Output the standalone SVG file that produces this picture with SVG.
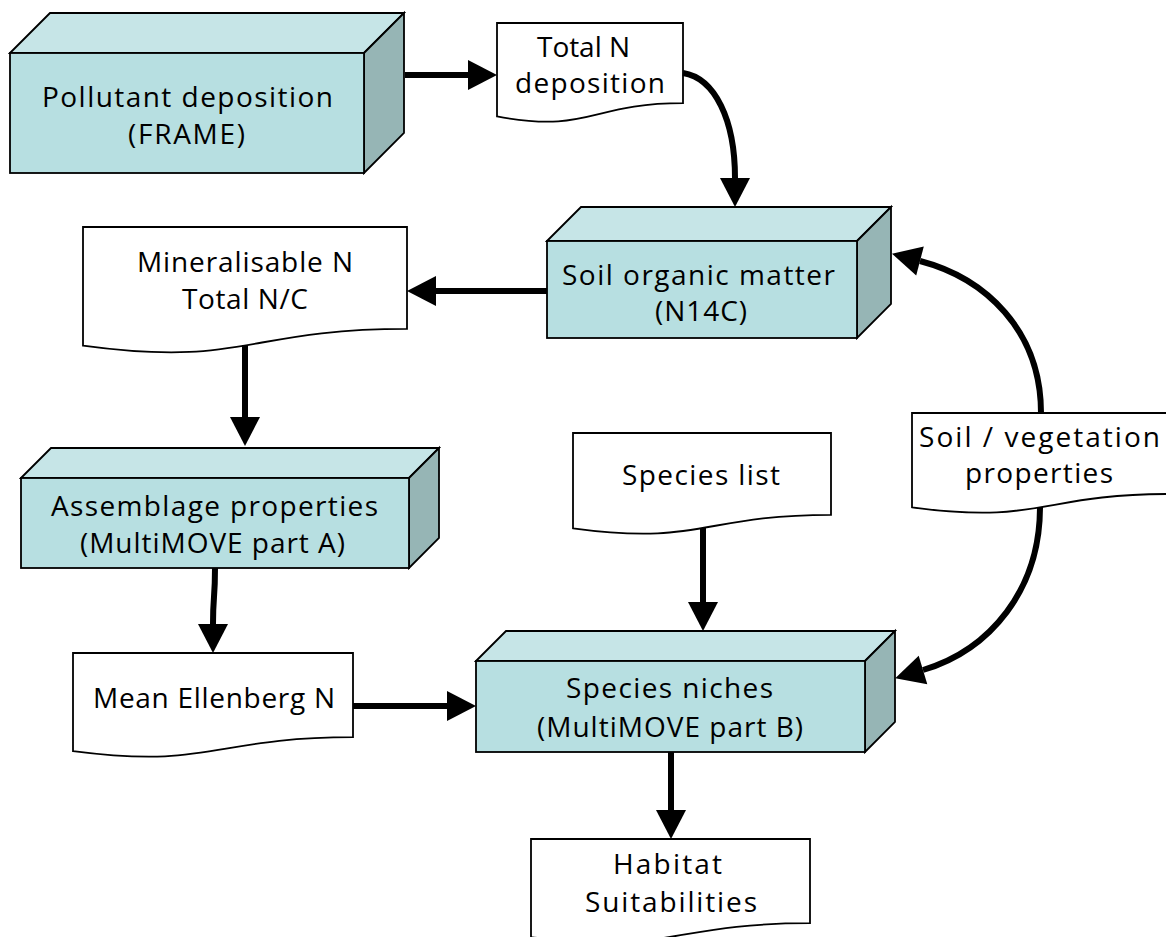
<svg xmlns="http://www.w3.org/2000/svg" width="1166" height="937" viewBox="0 0 1166 937">
<style>
.front{fill:#B7DFE1;stroke:#000;stroke-width:1.8;stroke-linejoin:miter}
.top{fill:#C6E5E7;stroke:#000;stroke-width:1.8}
.side{fill:#96B5B5;stroke:#000;stroke-width:1.8}
.doc{fill:#fff;stroke:#000;stroke-width:1.8}
.t{font-family:"Open Sans","Liberation Sans",Arial,sans-serif;font-size:28px;fill:#000;text-anchor:middle}
.c{fill:none;stroke:#000;stroke-width:6}
</style>
<defs>
<marker id="ah" markerUnits="userSpaceOnUse" markerWidth="30" markerHeight="30" refX="0" refY="15" orient="auto" overflow="visible">
<path d="M0,0 L29,15 L0,30 Z" fill="#000"/>
</marker>
</defs>
<rect width="1166" height="937" fill="#fff"/>

<g id="pollutant">
<polygon class="top" points="10,53 50,13 404,13 364,53"/>
<polygon class="side" points="364,53 404,13 404,133 364,173"/>
<rect class="front" x="10" y="53" width="354" height="120"/>
<text class="t" x="187.5" y="107" textLength="291" lengthAdjust="spacing">Pollutant deposition</text>
<text class="t" x="186.5" y="144" textLength="117" lengthAdjust="spacing">(FRAME)</text>
</g>

<g id="totaln">
<path class="doc" d="M497,23 H683 V103.2 C590,103.2 590,133.75 497,116.4 Z"/>
<text class="t" x="583.5" y="57" textLength="93" lengthAdjust="spacing">Total N</text>
<text class="t" x="590" y="93" textLength="150" lengthAdjust="spacing">deposition</text>
</g>

<g id="som">
<polygon class="top" points="547,241 581,207 891,207 857,241"/>
<polygon class="side" points="857,241 891,207 891,304 857,338"/>
<rect class="front" x="547" y="241" width="310" height="97"/>
<text class="t" x="698.5" y="285" textLength="273" lengthAdjust="spacing">Soil organic matter</text>
<text class="t" x="701" y="321" textLength="92" lengthAdjust="spacing">(N14C)</text>
</g>

<g id="mineral">
<path class="doc" d="M83,227 H407 V328.9 C245,328.9 245,367.7 83,345.6 Z"/>
<text class="t" x="245" y="272" textLength="216" lengthAdjust="spacing">Mineralisable N</text>
<text class="t" x="245" y="309" textLength="126" lengthAdjust="spacing">Total N/C</text>
</g>

<g id="assemblage">
<polygon class="top" points="21,478 51,448 439,448 409,478"/>
<polygon class="side" points="409,478 439,448 439,538 409,568"/>
<rect class="front" x="21" y="478" width="388" height="90"/>
<text class="t" x="214.5" y="516" textLength="327" lengthAdjust="spacing">Assemblage properties</text>
<text class="t" x="212.5" y="553" textLength="265" lengthAdjust="spacing">(MultiMOVE part A)</text>
</g>

<g id="ellenberg">
<path class="doc" d="M73,653 H353 V737.2 C213,737.2 213,769.3 73,751.1 Z"/>
<text class="t" x="214" y="708" textLength="242" lengthAdjust="spacing">Mean Ellenberg N</text>
</g>

<g id="specieslist">
<path class="doc" d="M573,433 H831 V514.8 C702,514.8 702,546 573,528.3 Z"/>
<text class="t" x="701" y="485" textLength="158" lengthAdjust="spacing">Species list</text>
</g>

<g id="soilveg">
<path class="doc" d="M912,413 H1170 V494 C1041,494 1041,524.9 912,507.3 Z"/>
<text class="t" x="1039.5" y="447" textLength="241" lengthAdjust="spacing">Soil / vegetation</text>
<text class="t" x="1039" y="483" textLength="148" lengthAdjust="spacing">properties</text>
</g>

<g id="niches">
<polygon class="top" points="476,661 506,631 895,631 865,661"/>
<polygon class="side" points="865,661 895,631 895,722 865,752"/>
<rect class="front" x="476" y="661" width="389" height="91"/>
<text class="t" x="669.5" y="698" textLength="207" lengthAdjust="spacing">Species niches</text>
<text class="t" x="670" y="737" textLength="266" lengthAdjust="spacing">(MultiMOVE part B)</text>
</g>

<g id="habitat">
<path class="doc" d="M531,839 H810 V923.2 C670.5,923.2 670.5,955.3 531,937.1 Z"/>
<text class="t" x="667.5" y="874" textLength="109" lengthAdjust="spacing">Habitat</text>
<text class="t" x="671" y="912" textLength="172" lengthAdjust="spacing">Suitabilities</text>
</g>

<g id="connectors">
<path class="c" marker-end="url(#ah)" d="M405,75 H468"/>
<path class="c" marker-end="url(#ah)" d="M683,73 C715,78 735,120 735,178"/>
<path class="c" marker-end="url(#ah)" d="M547,291 H436"/>
<path class="c" marker-end="url(#ah)" d="M245,345 V417"/>
<path class="c" marker-end="url(#ah)" d="M215,568 C215,600 213,595 213,624"/>
<path class="c" marker-end="url(#ah)" d="M353,706 H447"/>
<path class="c" marker-end="url(#ah)" d="M703,528 V602"/>
<path class="c" marker-end="url(#ah)" d="M671,752 V810"/>
<path class="c" marker-end="url(#ah)" d="M1041,413 C1041,330 985,278 920,261"/>
<path class="c" marker-end="url(#ah)" d="M1040,507 C1040,590 990,650 923,670"/>
</g>
</svg>
